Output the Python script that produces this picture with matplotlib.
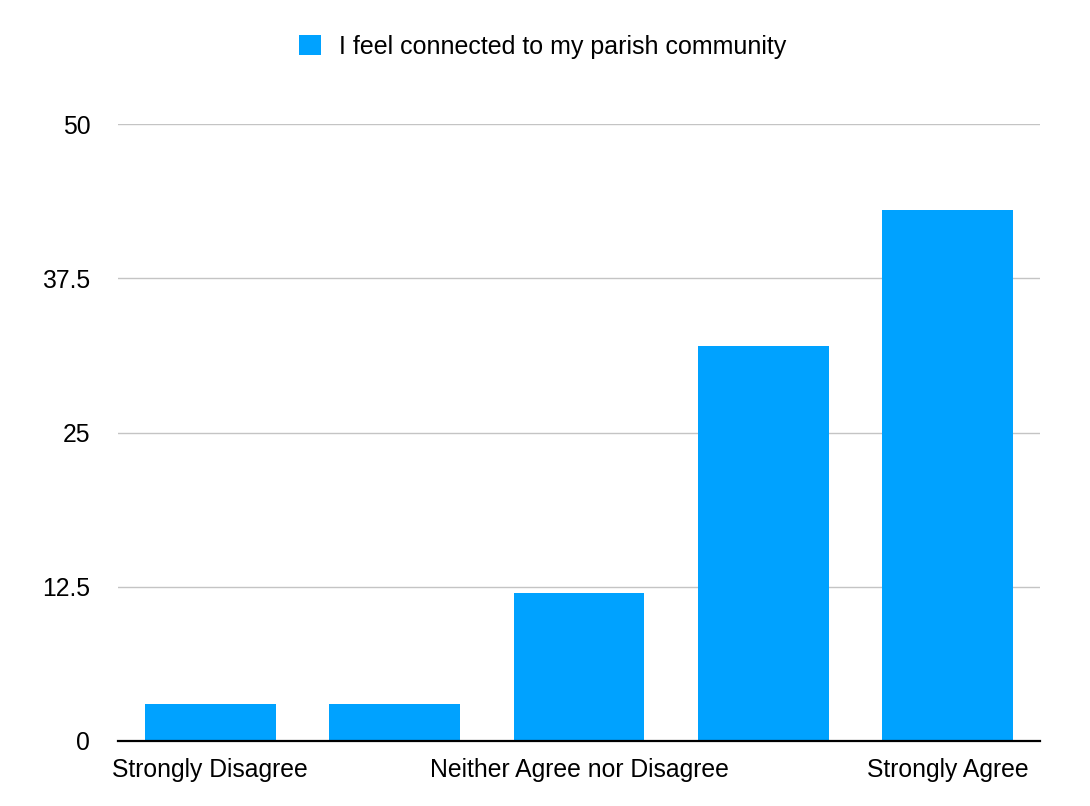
import matplotlib
matplotlib.use("Agg")
from matplotlib import pyplot as plt

# data
categories = ['Strongly Disagree', 'Disagree', 'Neither Agree nor Disagree', 'Agree', 'Strongly Agree']
values = [3, 3, 12, 32, 43]
shown_labels = ['Strongly Disagree', '', 'Neither Agree nor Disagree', '', 'Strongly Agree']
yticks = [0, 12.5, 25, 37.5, 50]
yticklabels = ['0', '12.5', '25', '37.5', '50']
series_name = 'I feel connected to my parish community'

plt.rcParams['font.family'] = ['Liberation Sans', 'DejaVu Sans']

fig = plt.figure(figsize=(10.9, 8.06), dpi=100)
W, H = 1090, 806
ax = fig.add_axes([118 / W, (H - 741) / H, (1040 - 118) / W, (741 - 124) / H])

xpos = list(range(len(categories)))
ax.bar(xpos, values, width=0.71, color='#00A2FF', label=series_name, zorder=3)

ax.set_xlim(-0.5, len(categories) - 0.5)
ax.set_ylim(0, 50)
ax.set_yticks(yticks)
ax.set_yticklabels(yticklabels)
ax.set_xticks(xpos)
ax.set_xticklabels(shown_labels)

ax.grid(axis='y', color='#c4c4c4', linewidth=1, zorder=0)
for side in ['top', 'right', 'left']:
    ax.spines[side].set_visible(False)
ax.spines['bottom'].set_color('black')
ax.spines['bottom'].set_linewidth(1.6)
ax.spines['bottom'].set_zorder(4)
ax.tick_params(axis='both', length=0, labelsize=17.8, colors='black')
ax.tick_params(axis='y', pad=20)
ax.tick_params(axis='x', pad=12)

fig.legend(loc='center', bbox_to_anchor=(543 / W, 1 - 47 / H), frameon=False,
           fontsize=18, handlelength=0.85, handleheight=0.85, handletextpad=0.75)

plt.savefig('out.png', dpi=100)
